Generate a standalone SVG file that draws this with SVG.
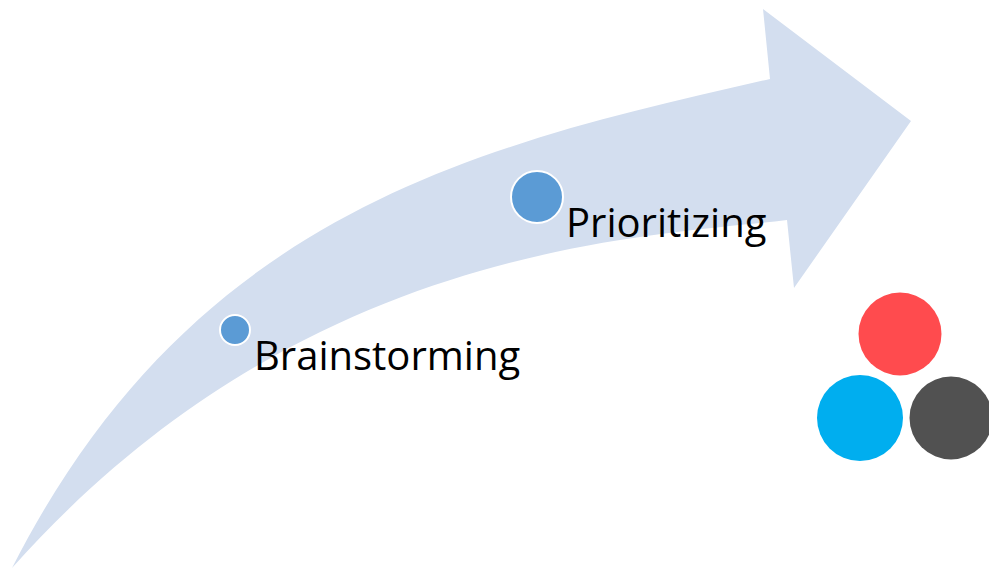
<svg xmlns="http://www.w3.org/2000/svg" width="989" height="570" viewBox="0 0 989 570">
<style>
.band{fill:#D3DEEF}
.dot{fill:#5B9BD5;stroke:#FFFFFF;stroke-width:2}
.lbl{font-family:"Open Sans","Noto Sans",sans-serif;font-size:40px;fill:#000000}
</style>
<rect width="989" height="570" fill="#FFFFFF"/>
<g id="connectors">
<path class="band" d="M12,568 C194,210 480,145 770,79 L763,9 L911,121 L794,288 L787,220 C637,238 300,245 12,568 Z"/>
</g>
<g id="brainstorming">
<circle class="dot" cx="235" cy="330" r="15"/>
<text class="lbl" x="254" y="370">Brainstorming</text>
</g>
<g id="prioritizing">
<circle class="dot" cx="537" cy="197" r="26"/>
<text class="lbl" x="566" y="237">Prioritizing</text>
</g>
<g id="logo">
<circle cx="900" cy="334" r="41.5" fill="#FF4B4E"/>
<circle cx="860" cy="418" r="43" fill="#00AEEF"/>
<circle cx="951" cy="418" r="41.5" fill="#515151"/>
</g>
</svg>
